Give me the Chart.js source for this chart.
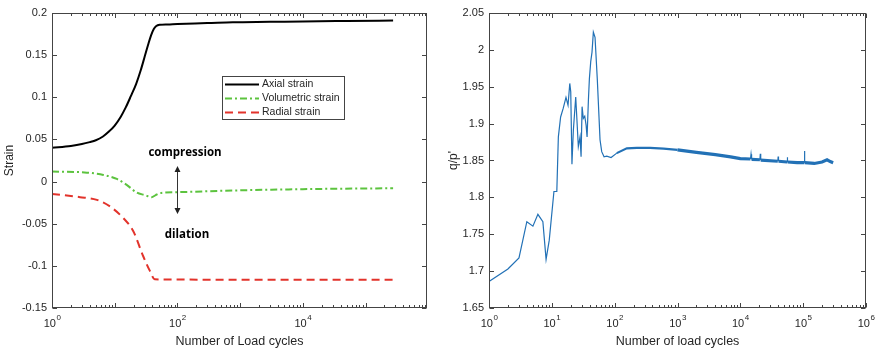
<!DOCTYPE html>
<html>
<head>
<meta charset="utf-8">
<script src="https://cdn.jsdelivr.net/npm/chart.js@4/dist/chart.umd.min.js"></script>
<style>
  body { margin: 0; background: #fff; }
  .panel { position: absolute; top: 0; width: 440px; height: 352px; }
</style>
</head>
<body>
<div class="panel" style="left:0"><canvas id="strainChart"></canvas></div>
<div class="panel" style="left:440px"><canvas id="ratioChart"></canvas></div>
<script>
// left panel: strains vs cycles
let axialCycles = [1, 2, 3, 4, 5, 6.5, 8, 10, 12.5, 15, 18, 22, 26, 30, 34, 38, 42, 46, 52, 70, 100, 300, 765, 3000, 10000, 50000, 275000];
let axialStrain = [0.040, 0.0423, 0.0445, 0.0468, 0.049, 0.0535, 0.059, 0.0665, 0.077, 0.088, 0.101, 0.116, 0.132, 0.148, 0.162, 0.1735, 0.181, 0.1845, 0.186, 0.1865, 0.187, 0.188, 0.189, 0.1895, 0.190, 0.1905, 0.191];

let volCycles = [1, 3.6, 6.6, 10.8, 15.5, 22.4, 30, 38.7, 45, 52.5, 100, 765, 10000, 275000];
let volStrain = [0.012, 0.0106, 0.0079, 0.0031, -0.0039, -0.013, -0.016, -0.0185, -0.016, -0.0138, -0.0126, -0.0106, -0.009, -0.0079];

let radCycles = [1, 2.8, 5.2, 8.4, 13.7, 19.8, 28.5, 36.4, 43.7, 100, 1000, 10000, 275000];
let radStrain = [-0.0146, -0.0185, -0.0217, -0.0295, -0.0433, -0.059, -0.0886, -0.106, -0.116, -0.1163, -0.1165, -0.1165, -0.1165];

// right panel: stress ratio q/p'
let ratioCycles = [1, 2, 3, 4, 5, 6, 7.2, 8.1, 9.1, 10.8, 12, 12.7, 13.8, 15.2, 16.8, 18.1, 19.3, 20, 20.9, 22, 24, 26.4, 28.1, 29.2, 30.3, 31.7, 33.4, 35.1, 36.4, 38.2, 39.6, 41.6, 43.6, 45.8, 48.7, 53, 58.5, 62.2, 67.8, 74.8, 87.7, 108, 156, 225, 366, 600, 1000, 2000, 4000, 7000, 10000, 14500, 14800, 15100, 20500, 20800, 21100, 39500, 40000, 40500, 55500, 56000, 56500, 80000, 104000, 105000, 106000, 150000, 200000, 240000, 270000, 300000];
let ratioValues = [1.686, 1.703, 1.718, 1.767, 1.761, 1.777, 1.767, 1.716, 1.742, 1.808, 1.808, 1.882, 1.909, 1.921, 1.9355, 1.925, 1.9545, 1.943, 1.845, 1.891, 1.936, 1.869, 1.882, 1.855, 1.923, 1.907, 1.91, 1.898, 1.882, 1.932, 1.961, 1.984, 1.997, 2.024, 2.017, 1.959, 1.878, 1.862, 1.855, 1.856, 1.854, 1.86, 1.8665, 1.867, 1.867, 1.866, 1.8645, 1.861, 1.858, 1.855, 1.8525, 1.852, 1.8585, 1.8515, 1.851, 1.859, 1.8505, 1.849, 1.8555, 1.849, 1.848, 1.8545, 1.848, 1.847, 1.847, 1.863, 1.847, 1.846, 1.848, 1.851, 1.8485, 1.847];

let strainTicks = [-0.15, 0.2, 0.05];
let ratioTicks = [1.65, 2.05, 0.05];

const textColor = '#262626';
const sans = "'Liberation Sans', Arial, sans-serif";
Chart.defaults.font.family = sans;
Chart.defaults.font.size = 11;
Chart.defaults.color = textColor;

function pairs(xs, ys) {
    return xs.map((x, i) => ({ x: x, y: ys[i] }));
}

function fmt(v) {
    return String(Number(v.toFixed(2)));
}

// box, inward ticks and 10^n labels like matlab
const matlabFrame = {
    id: 'matlabFrame',
    afterDraw(chart, args, opts) {
        const ctx = chart.ctx;
        const a = chart.chartArea;
        const xs = chart.scales.x, ys = chart.scales.y;
        ctx.save();
        ctx.strokeStyle = '#444';
        ctx.lineWidth = 1;
        const L = Math.round(a.left) + 0.5, R = Math.round(a.right) - 0.5;
        const T = Math.round(a.top) + 0.5, B = Math.round(a.bottom) - 0.5;
        ctx.strokeRect(L, T, R - L, B - T);

        ctx.beginPath();
        const k0 = Math.floor(Math.log10(xs.min)), k1 = Math.ceil(Math.log10(xs.max));
        for (let k = k0; k <= k1; k++) {
            for (let m = 1; m <= 9; m++) {
                const v = m * Math.pow(10, k);
                if (v < xs.min * 0.999 || v > xs.max * 1.001) continue;
                const px = Math.round(xs.getPixelForValue(v)) + 0.5;
                const len = m === 1 ? 4.5 : 2.5;
                ctx.moveTo(px, B); ctx.lineTo(px, B - len);
                ctx.moveTo(px, T); ctx.lineTo(px, T + len);
            }
        }
        ys.ticks.forEach(t => {
            const py = Math.round(ys.getPixelForValue(t.value)) + 0.5;
            ctx.moveTo(L, py); ctx.lineTo(L + 4.5, py);
            ctx.moveTo(R, py); ctx.lineTo(R - 4.5, py);
        });
        ctx.stroke();

        // decade labels
        ctx.fillStyle = textColor;
        ctx.textBaseline = 'middle';
        ctx.textAlign = 'left';
        for (let k = k0; k <= k1; k++) {
            const v = Math.pow(10, k);
            if (v < xs.min * 0.999 || v > xs.max * 1.001 || k % opts.labelEvery !== 0) continue;
            const px = xs.getPixelForValue(v);
            ctx.font = '11px ' + sans;
            const w1 = ctx.measureText('10').width;
            ctx.font = '8px ' + sans;
            const w2 = ctx.measureText(String(k)).width;
            const x0 = px - (w1 + w2) / 2;
            ctx.font = '11px ' + sans;
            ctx.fillText('10', x0, a.bottom + 16);
            ctx.font = '8px ' + sans;
            ctx.fillText(String(k), x0 + w1 + 0.5, a.bottom + 10);
        }
        ctx.restore();
    }
};

// legend box and annotations for the strain panel
const strainNotes = {
    id: 'strainNotes',
    afterDraw(chart) {
        const ctx = chart.ctx;
        ctx.save();
        ctx.fillStyle = '#fff';
        ctx.fillRect(222, 76, 122, 43);
        ctx.strokeStyle = '#444';
        ctx.lineWidth = 1;
        ctx.strokeRect(222.5, 76.5, 122, 43);
        chart.data.datasets.forEach((ds, i) => {
            const y = 84.5 + i * 14;
            ctx.beginPath();
            ctx.strokeStyle = ds.borderColor;
            ctx.lineWidth = ds.borderWidth;
            ctx.setLineDash(ds.borderDash || []);
            ctx.moveTo(225, y);
            ctx.lineTo(259, y);
            ctx.stroke();
            ctx.setLineDash([]);
            ctx.fillStyle = textColor;
            ctx.font = '10.5px ' + sans;
            ctx.textBaseline = 'middle';
            ctx.textAlign = 'left';
            ctx.fillText(ds.label, 262, y);
        });

        ctx.fillStyle = '#000';
        ctx.font = "bold 11.5px 'Open Sans', sans-serif";
        ctx.textAlign = 'center';
        ctx.textBaseline = 'middle';
        ctx.fillText('compression', 185, 153);
        ctx.fillText('dilation', 187, 235);

        // double arrow
        ctx.strokeStyle = '#333';
        ctx.fillStyle = '#222';
        ctx.lineWidth = 1;
        ctx.beginPath();
        ctx.moveTo(177.5, 170);
        ctx.lineTo(177.5, 210);
        ctx.stroke();
        ctx.beginPath();
        ctx.moveTo(177.5, 166); ctx.lineTo(174.5, 172); ctx.lineTo(180.5, 172); ctx.closePath();
        ctx.moveTo(177.5, 214); ctx.lineTo(174.5, 208); ctx.lineTo(180.5, 208); ctx.closePath();
        ctx.fill();
        ctx.restore();
    }
};

function axisOptions(xMax, xTitle, yRange, yTitle, yWidth, yTitlePad) {
    return {
        x: {
            type: 'logarithmic',
            min: 1,
            max: xMax,
            ticks: { display: false },
            grid: { display: false, drawTicks: false },
            border: { display: false },
            title: { display: true, text: xTitle, color: textColor, font: { size: 12.5 }, padding: { top: 0, bottom: 3 } },
            afterFit(s) { s.height = 44; }
        },
        y: {
            type: 'linear',
            min: yRange[0],
            max: yRange[1],
            ticks: { stepSize: yRange[2], padding: 5, color: textColor, callback: v => fmt(v) },
            grid: { display: false, drawTicks: false },
            border: { display: false },
            title: { display: true, text: yTitle, color: textColor, font: { size: 12 }, padding: { top: yTitlePad, bottom: 0 } },
            afterFit(s) { s.width = yWidth; }
        }
    };
}

// thin line for the early cycles and narrow spikes, thicker noisy band later
function bandWidth(c) {
    const x0 = c.p0.parsed.x, x1 = c.p1.parsed.x;
    if (x0 < 90 || x1 / x0 < 1.05) return 1.2;
    return x0 < 1000 ? 2.2 : 3.2;
}

let strainChart = new Chart(document.getElementById('strainChart'), {
    type: 'line',
    data: {
        datasets: [{
            label: 'Axial strain',
            data: pairs(axialCycles, axialStrain),
            borderColor: '#000000',
            borderWidth: 2,
            cubicInterpolationMode: 'monotone',
            pointRadius: 0
        }, {
            label: 'Volumetric strain',
            data: pairs(volCycles, volStrain),
            borderColor: '#5cc33e',
            borderWidth: 2,
            borderDash: [7, 3, 2, 3],
            cubicInterpolationMode: 'monotone',
            pointRadius: 0
        }, {
            label: 'Radial strain',
            data: pairs(radCycles, radStrain),
            borderColor: '#e2332b',
            borderWidth: 2,
            borderDash: [8, 5],
            cubicInterpolationMode: 'monotone',
            pointRadius: 0
        }]
    },
    options: {
        responsive: true,
        maintainAspectRatio: false,
        animation: false,
        layout: { padding: { top: 13, right: 13, left: 0, bottom: 0 } },
        plugins: {
            legend: { display: false },
            tooltip: { enabled: false },
            matlabFrame: { labelEvery: 2 }
        },
        scales: axisOptions(955000, 'Number of Load cycles', strainTicks, 'Strain', 52, 2)
    },
    plugins: [matlabFrame, strainNotes]
});

let ratioChart = new Chart(document.getElementById('ratioChart'), {
    type: 'line',
    data: {
        datasets: [{
            label: "q/p'",
            data: pairs(ratioCycles, ratioValues),
            borderColor: '#2271b6',
            borderWidth: 1.2,
            pointRadius: 0,
            segment: { borderWidth: bandWidth }
        }]
    },
    options: {
        responsive: true,
        maintainAspectRatio: false,
        animation: false,
        layout: { padding: { top: 13, right: 14, left: 0, bottom: 0 } },
        plugins: {
            legend: { display: false },
            tooltip: { enabled: false },
            matlabFrame: { labelEvery: 1 }
        },
        scales: axisOptions(1000000, 'Number of load cycles', ratioTicks, "q/p'", 49, 6)
    },
    plugins: [matlabFrame]
});
</script>
</body>
</html>
